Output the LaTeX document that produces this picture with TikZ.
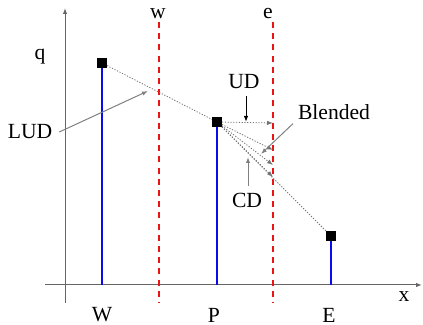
\documentclass[tikz,border=0pt]{standalone}
\usepackage{fontspec}
\setmainfont{Liberation Serif}
\usetikzlibrary{arrows.meta,positioning}
\definecolor{Blue}{RGB}{10,10,240}
\definecolor{Red}{RGB}{235,20,20}

\begin{document}
\begin{tikzpicture}[
    x=0.5pt, y=-0.5pt,
    >={Latex[length=3pt,width=2.2pt]},
    axis/.style={black!60, line width=0.5pt},
    face/.style={Red, line width=1pt, dash pattern=on 3pt off 2.6pt},
    stem/.style={Blue, line width=1pt},
    cell/.style={fill=black, minimum size=4.6pt, inner sep=0pt},
    fan/.style={black!55, line width=0.4pt, dash pattern=on 0.6pt off 0.8pt},
    pointer/.style={black!50, line width=0.5pt, ->},
    tag/.style={inner sep=0.5pt},
    font=\fontsize{10.8}{13}\selectfont
]
  \useasboundingbox (0,0) rectangle (423,325);

  % axes
  \coordinate (ybot) at (65,303);
  \coordinate (ytop) at (65,8);
  \coordinate (xleft) at (45,285);
  \coordinate (xright) at (422,285);
  \draw[axis,->] (ybot) -- (ytop);
  \draw[axis,->] (xleft) -- (xright);
  \node[tag] (q) at (40,57) {q};
  \node[tag] (x) at (404,297) {x};

  % faces
  \coordinate (wtop) at (159,22);
  \coordinate (wbot) at (159,303);
  \coordinate (etop) at (273,22);
  \coordinate (ebot) at (273,303);
  \draw[face] (wtop) -- (wbot);
  \draw[face] (etop) -- (ebot);
  \node[tag] (w) at (158,14) {w};
  \node[tag] (e) at (268,14) {e};

  % nodal values
  \node[cell] (W) at (102,63) {};
  \node[cell] (P) at (217,122) {};
  \node[cell] (E) at (331,236) {};
  \coordinate (Wb) at (102,285);
  \coordinate (Pb) at (217,285);
  \coordinate (Eb) at (331,285);
  \draw[stem] (W.south) -- (Wb);
  \draw[stem] (P.south) -- (Pb);
  \draw[stem] (E.south) -- (Eb);
  \node[tag] (Wl) at (102,315) {W};
  \node[tag] (Pl) at (214,315) {P};
  \node[tag] (El) at (329,315) {E};

  % interpolations at e
  \coordinate (ud) at (273,123);
  \coordinate (lud) at (273,150);
  \coordinate (bl) at (273,165);
  \coordinate (cd) at (273,177);
  \draw[fan] (W) -- (P);
  \draw[fan,->] (P) -- (ud);
  \draw[fan,->] (P) -- (lud);
  \draw[fan,->] (P) -- (bl);
  \draw[fan,->] (P) -- (cd);
  \draw[fan] (P) -- (E);

  % labels
  \node (LUD) at (30,132) {LUD};
  \node (UD) at (244,82) {UD};
  \node (Blended) at (334,112) {Blended};
  \node (CD) at (247,200) {CD};
  \coordinate (ludp) at (148,91);
  \coordinate (udp) at (246,122);
  \coordinate (blp) at (261,154);
  \coordinate (cdp) at (248,157);
  \draw[pointer] (LUD.east) -- (ludp);
  \draw[pointer,black] (UD.south -| udp) -- (udp);
  \draw[pointer] (Blended.south west) ++(2,-3) -- (blp);
  \draw[pointer] (CD.north -| cdp) -- (cdp);
\end{tikzpicture}
\end{document}
